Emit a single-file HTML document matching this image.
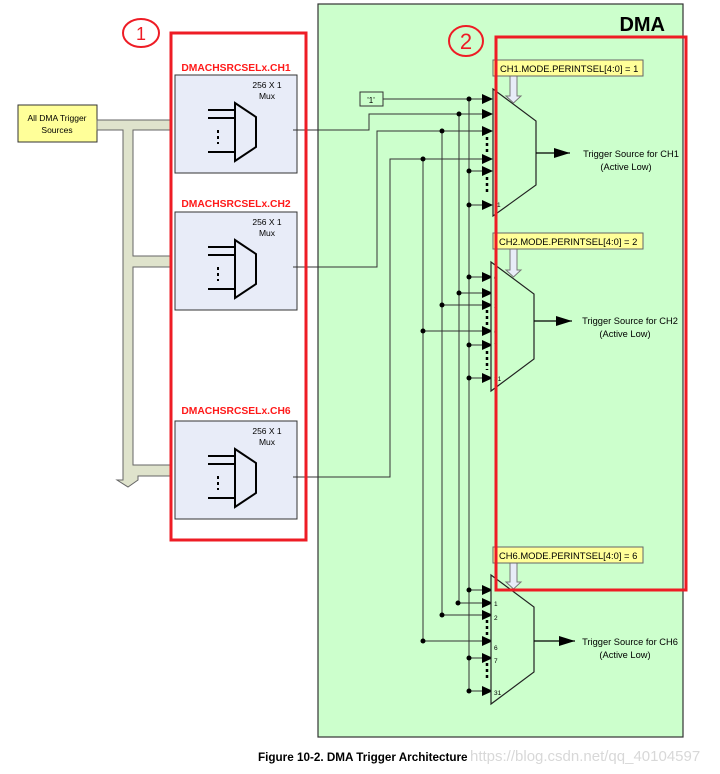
<!DOCTYPE html>
<html><head><meta charset="utf-8"><style>
html,body{margin:0;padding:0;background:#fff;}
svg{display:block;font-family:"Liberation Sans",Arial,sans-serif;}
</style></head><body>
<svg width="720" height="774" viewBox="0 0 720 774" xmlns="http://www.w3.org/2000/svg">
<defs>
<marker id="ahb" markerWidth="16" markerHeight="10" refX="16" refY="5" orient="auto" markerUnits="userSpaceOnUse"><path d="M0,0 L16,5 L0,10 z" fill="#000"/></marker>
</defs>
<rect x="318" y="4" width="365" height="733" fill="#ccffcc" stroke="#333" stroke-width="1.2"/>
<text x="665" y="31" font-size="20" font-weight="bold" text-anchor="end">DMA</text>

<rect x="18" y="105" width="79" height="37" fill="#ffff99" stroke="#333"/>
<text x="57" y="121" font-size="8.5" text-anchor="middle">All DMA Trigger</text>
<text x="57" y="133" font-size="8.5" text-anchor="middle">Sources</text>

<path d="M97,120 H172 V130 H133 V256 H172 V267 H133 V465 H172 V476 H138 V480 L128,487 L117,480 H123 V130 H97 Z" fill="#dfe3cc" stroke="#666" stroke-width="1"/>

<g id="mb">
<rect x="175" y="75" width="122" height="98" fill="#e8ecf8" stroke="#333"/>
<text x="267" y="88" font-size="8.5" text-anchor="middle">256 X 1</text>
<text x="267" y="99" font-size="8.5" text-anchor="middle">Mux</text>
<path d="M235,103 L256,117 L256,147 L235,161 Z" fill="none" stroke="#000" stroke-width="2"/>
<path d="M208,110 H235 M208,118 H235 M208,152 H235" stroke="#000" stroke-width="2"/>
<path d="M218,130 V144" stroke="#000" stroke-width="2" stroke-dasharray="3,3"/>
</g>
<use href="#mb" transform="translate(0,137)"/>
<use href="#mb" transform="translate(0,346)"/>
<text x="236" y="71" font-size="10.3" font-weight="bold" fill="#ff1a1a" text-anchor="middle">DMACHSRCSELx.CH1</text>
<text x="236" y="207" font-size="10.3" font-weight="bold" fill="#ff1a1a" text-anchor="middle">DMACHSRCSELx.CH2</text>
<text x="236" y="414" font-size="10.3" font-weight="bold" fill="#ff1a1a" text-anchor="middle">DMACHSRCSELx.CH6</text>

<g stroke="#333" stroke-width="1" fill="none">
<path d="M293,130 H369 V114 H482"/>
<path d="M293,267 H377 V131 H482"/>
<path d="M293,477 H390 V159 H482"/>
<path d="M371,99 H482"/>
<path d="M469,99 V691 M459,114 V603 M442,131 V615 M423,159 V641"/>
<path d="M469,171 H482 M469,205 H482"/>
<path d="M469,277 H482 M459,293 H482 M442,305 H482 M423,331 H482 M469,345 H482 M469,378 H482"/>
<path d="M469,590 H482 M458,603 H482 M442,615 H482 M423,641 H482 M469,658 H482 M469,691 H482"/>
</g>
<g fill="#000">
<circle cx="469" cy="99" r="2.5"/><circle cx="459" cy="114" r="2.5"/><circle cx="442" cy="131" r="2.5"/><circle cx="423" cy="159" r="2.5"/><circle cx="469" cy="171" r="2.5"/><circle cx="469" cy="205" r="2.5"/>
<circle cx="469" cy="277" r="2.5"/><circle cx="459" cy="293" r="2.5"/><circle cx="442" cy="305" r="2.5"/><circle cx="423" cy="331" r="2.5"/><circle cx="469" cy="345" r="2.5"/><circle cx="469" cy="378" r="2.5"/>
<circle cx="469" cy="590" r="2.5"/><circle cx="458" cy="603" r="2.5"/><circle cx="442" cy="615" r="2.5"/><circle cx="423" cy="641" r="2.5"/><circle cx="469" cy="658" r="2.5"/><circle cx="469" cy="691" r="2.5"/>
<path d="M482,94 L493,99 L482,104Z M482,109 L493,114 L482,119Z M482,126 L493,131 L482,136Z M482,154 L493,159 L482,164Z M482,166 L493,171 L482,176Z M482,200 L493,205 L482,210Z"/>
<path d="M482,272 L493,277 L482,282Z M482,288 L493,293 L482,298Z M482,300 L493,305 L482,310Z M482,326 L493,331 L482,336Z M482,340 L493,345 L482,350Z M482,373 L493,378 L482,383Z"/>
<path d="M482,585 L493,590 L482,595Z M482,598 L493,603 L482,608Z M482,610 L493,615 L482,620Z M482,636 L493,641 L482,646Z M482,653 L493,658 L482,663Z M482,686 L493,691 L482,696Z"/>
</g>
<g stroke="#000" stroke-width="2.5" stroke-dasharray="3,3">
<path d="M487,137 V152 M487,177 V193 M487,310 V326 M487,351 V370 M487,620 V636 M487,663 V680"/>
</g>
<rect x="360" y="92" width="23" height="14" fill="#ccffcc" stroke="#333"/>
<text x="371" y="103" font-size="8" text-anchor="middle">'1'</text>

<g fill="#ccffcc" stroke="#222" stroke-width="1.2">
<path d="M493,89 L536,121 L536,185 L493,216 Z"/>
<path d="M491,262 L534,294 L534,359 L491,391 Z"/>
<path d="M491,575 L534,607 L534,672 L491,704 Z"/>
</g>
<g font-size="6.5" fill="#000">
<text x="497" y="207">1</text>
<text x="494" y="280">0</text><text x="494" y="296" fill="#a08000">1</text><text x="494" y="308">2</text><text x="494" y="334">6</text><text x="494" y="348">7</text><text x="494" y="381">31</text>
<text x="494" y="606">1</text><text x="494" y="620">2</text><text x="494" y="650">6</text><text x="494" y="663">7</text><text x="494" y="695">31</text>
</g>
<g stroke="#000" stroke-width="1.2">
<path d="M536,153 H570" marker-end="url(#ahb)"/>
<path d="M534,321 H572" marker-end="url(#ahb)"/>
<path d="M534,641 H575" marker-end="url(#ahb)"/>
</g>
<g font-size="9.3" text-anchor="middle">
<text x="631" y="157">Trigger Source for CH1</text><text x="626" y="170">(Active Low)</text>
<text x="630" y="324">Trigger Source for CH2</text><text x="625" y="337">(Active Low)</text>
<text x="630" y="645">Trigger Source for CH6</text><text x="625" y="658">(Active Low)</text>
</g>

<g fill="#e8ecf8" stroke="#777">
<path d="M510,76 H517 V96 H521 L513.5,103 L506,96 H510 Z"/>
<path d="M510,249 H517 V270 H521 L513.5,277 L506,270 H510 Z"/>
<path d="M510,563 H517 V582 H521 L513.5,589 L506,582 H510 Z"/>
</g>
<g fill="#ffff99" stroke="#666">
<rect x="493" y="60" width="150" height="16"/>
<rect x="493" y="233" width="150" height="16"/>
<rect x="493" y="547" width="150" height="16"/>
</g>
<g font-size="9.4">
<text x="500" y="72">CH1.MODE.PERINTSEL[4:0] = 1</text>
<text x="499" y="245">CH2.MODE.PERINTSEL[4:0] = 2</text>
<text x="499" y="559">CH6.MODE.PERINTSEL[4:0] = 6</text>
</g>

<rect x="171" y="33" width="135" height="507" fill="none" stroke="#ee1c25" stroke-width="3"/>
<rect x="496" y="37" width="190" height="553" fill="none" stroke="#ee1c25" stroke-width="3"/>
<ellipse cx="141" cy="33" rx="18" ry="14" fill="none" stroke="#ee1c25" stroke-width="2"/>
<text x="141" y="40" font-size="18" fill="#ee1c25" text-anchor="middle">1</text>
<ellipse cx="466" cy="41" rx="17" ry="15" fill="none" stroke="#ee1c25" stroke-width="2"/>
<text x="466" y="49" font-size="22" fill="#ee1c25" text-anchor="middle">2</text>

<text x="258" y="761" font-size="11.7" font-weight="bold">Figure 10-2. DMA Trigger Architecture</text>
<text x="470" y="761" font-size="15" fill="#d8d8d8">https://blog.csdn.net/qq_40104597</text>
</svg>
</body></html>
